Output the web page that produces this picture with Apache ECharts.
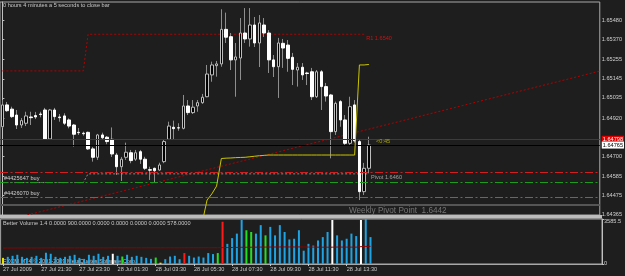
<!DOCTYPE html>
<html><head><meta charset="utf-8">
<script src="https://cdn.jsdelivr.net/npm/echarts@6/dist/echarts.min.js"></script>
<style>html,body{margin:0;padding:0;background:#1e1e1e}#c{width:625px;height:276px}</style>
</head><body><div id="c"></div>
<script>
// ---- data (GBPUSD M15) ----
const opens = [1.64870,1.64995,1.64971,1.64937,1.64880,1.64890,1.64926,1.64934,1.64943,1.64966,
1.64800,1.64966,1.64926,1.64932,1.64909,1.64880,1.64838,1.64833,1.64838,1.64743,
1.64695,1.64823,1.64810,1.64798,1.64708,1.64641,1.64695,1.64721,1.64684,1.64727,
1.64684,1.64624,1.64632,1.64622,1.64670,1.64798,1.64867,1.64864,1.64861,1.64989,
1.64951,1.64989,1.65008,1.65042,1.65167,1.65220,1.65230,1.65428,1.65386,1.65253,
1.65264,1.65407,1.65373,1.65453,1.65350,1.65453,1.65407,1.65253,1.65214,1.65348,
1.65338,1.65268,1.65195,1.65211,1.65178,1.65185,1.65042,1.65185,1.65100,1.65052,
1.64842,1.65014,1.64909,1.64775,1.64995,1.64785,1.64498,1.64632];
const closes = [1.64995,1.64962,1.64928,1.64880,1.64905,1.64932,1.64922,1.64926,1.64940,1.64800,
1.64966,1.64928,1.64922,1.64890,1.64874,1.64827,1.64836,1.64830,1.64743,1.64695,
1.64823,1.64807,1.64785,1.64714,1.64641,1.64684,1.64724,1.64676,1.64721,1.64684,
1.64632,1.64621,1.64618,1.64651,1.64785,1.64874,1.64859,1.64863,1.64989,1.64951,
1.64982,1.65008,1.65039,1.65172,1.65224,1.65230,1.65428,1.65383,1.65253,1.65270,
1.65407,1.65373,1.65453,1.65350,1.65465,1.65407,1.65253,1.65214,1.65350,1.65321,
1.65262,1.65199,1.65211,1.65167,1.65175,1.65042,1.65185,1.65100,1.65046,1.64842,
1.65004,1.64909,1.64775,1.64985,1.64789,1.64498,1.64632,1.64765];
const lows = [1.64863,1.64955,1.64920,1.64857,1.64863,1.64874,1.64880,1.64914,1.64924,1.64797,
1.64797,1.64909,1.64899,1.64880,1.64861,1.64756,1.64823,1.64819,1.64737,1.64670,
1.64680,1.64794,1.64770,1.64697,1.64594,1.64559,1.64680,1.64661,1.64674,1.64657,
1.64622,1.64565,1.64549,1.64618,1.64661,1.64794,1.64794,1.64847,1.64855,1.64937,
1.64943,1.64956,1.65001,1.65039,1.65128,1.65157,1.65214,1.65350,1.65195,1.65042,
1.65138,1.65350,1.65329,1.65327,1.65212,1.65384,1.65178,1.65155,1.65035,1.65207,
1.65185,1.65109,1.65100,1.65138,1.65109,1.65023,1.65035,1.64966,1.65014,1.64689,
1.64823,1.64870,1.64766,1.64766,1.64779,1.64450,1.64479,1.64603];
const highs = [1.65023,1.65012,1.64985,1.64966,1.64920,1.64956,1.64956,1.64955,1.64956,1.64978,
1.64972,1.64978,1.64943,1.64947,1.64918,1.64886,1.64863,1.64842,1.64842,1.64754,
1.64829,1.64836,1.64817,1.64866,1.64720,1.64697,1.64779,1.64737,1.64737,1.64737,
1.64698,1.64641,1.64636,1.64664,1.64794,1.64899,1.64905,1.64890,1.65052,1.65023,
1.65023,1.65023,1.65058,1.65224,1.65243,1.65247,1.65543,1.65524,1.65407,1.65350,
1.65493,1.65550,1.65550,1.65499,1.65510,1.65493,1.65424,1.65281,1.65379,1.65373,
1.65367,1.65293,1.65235,1.65235,1.65185,1.65207,1.65195,1.65195,1.65121,1.65058,
1.65014,1.65023,1.64937,1.65042,1.65023,1.64794,1.64663,1.64813];

const volumes = [489,570,652,734,570,489,570,652,489,897,
815,570,489,570,652,734,489,408,734,652,
815,570,652,815,652,595,734,570,652,570,
489,408,513,106,383,595,652,383,872,652,
513,595,513,872,791,872,3366,1606,2062,2421,
3505,2690,2551,2421,3097,2282,2958,2282,3097,2551,
1956,2013,2690,1060,1606,1467,1875,2143,2551,3505,
2282,1875,2013,2421,2225,3505,3585.5,2143];
// N normal, L low volume, U climax up, D climax down, C high churn
const volumeClass = ['L','N','N','N','N','N','N','N','N','N',
'N','N','N','N','N','N','N','N','N','N',
'N','N','N','D','N','C','N','N','N','N',
'N','N','C','L','N','N','N','N','U','N',
'N','N','N','N','N','C','U','N','N','N',
'N','C','C','N','N','C','N','N','N','N',
'N','N','N','N','N','N','N','N','N','D',
'N','N','N','N','N','D','N','N'];
const volumeAvg = [1270,1272,1275,1276,1278,1279,1280,1281,1280,1282,
1284,1285,1284,1283,1284,1285,1284,1283,1285,1286,
1287,1288,1288,1289,1290,1290,1291,1291,1292,1291,
1290,1290,1291,1290,1289,1290,1291,1292,1293,1294,
1294,1295,1295,1296,1297,1298,1310,1312,1316,1320,
1330,1334,1337,1340,1346,1348,1352,1354,1358,1360,
1358,1357,1360,1355,1350,1346,1340,1338,1336,1340,
1350,1348,1345,1344,1342,1380,1400,1405];

const r1Level = [1.6519,1.6519,1.6519,1.6519,1.6519,1.6519,1.6519,1.6519,1.6519,1.6519,
1.6519,1.6519,1.6519,1.6519,1.6519,1.6519,1.6519,1.6519,1.6540,1.6540,
1.6540,1.6540,1.6540,1.6540,1.6540,1.6540,1.6540,1.6540,1.6540,1.6540,
1.6540,1.6540,1.6540,1.6540,1.6540,1.6540,1.6540,1.6540,1.6540,1.6540,
1.6540,1.6540,1.6540,1.6540,1.6540,1.6540,1.6540,1.6540,1.6540,1.6540,
1.6540,1.6540,1.6540,1.6540,1.6540,1.6540,1.6540,1.6540,1.6540,1.6540,
1.6540,1.6540,1.6540,1.6540,1.6540,1.6540,1.6540,1.6540,1.6540,1.6540,
1.6540,1.6540,1.6540,1.6540,1.6540,1.6540,1.6540,null];
const pivotLevel = [1.6455,1.6455,1.6455,1.6455,1.6455,1.6455,1.6455,1.6455,1.6455,1.6455,
1.6455,1.6455,1.6455,1.6455,1.6455,1.6455,1.6455,1.6455,1.6460,1.6460,
1.6460,1.6460,1.6460,1.6460,1.6460,1.6460,1.6460,1.6460,1.6460,1.6460,
1.6460,1.6460,1.6460,1.6460,1.6460,1.6460,1.6460,1.6460,1.6460,1.6460,
1.6460,1.6460,1.6460,1.6460,1.6460,1.6460,1.6460,1.6460,1.6460,1.6460,
1.6460,1.6460,1.6460,1.6460,1.6460,1.6460,1.6460,1.6460,1.6460,1.6460,
1.6460,1.6460,1.6460,1.6460,1.6460,1.6460,1.6460,1.6460,1.6460,1.6460,
1.6460,1.6460,1.6460,1.6460,1.6460,1.6460,1.6460,1.6460];
const yellowLine = [null,null,null,null,null,null,null,null,null,null,
null,null,null,null,null,null,null,null,null,null,
null,null,null,null,null,null,null,null,null,null,
null,null,null,null,null,null,null,null,null,null,
null,null,1.64324,1.64450,1.64485,1.64530,1.64688,1.64690,1.64691,1.64693,
1.64694,1.64695,1.64698,1.64701,1.64704,1.64706,1.64708,1.64708,1.64708,1.64708,
1.64708,1.64708,1.64708,1.64708,1.64708,1.64708,1.64708,1.64708,1.64708,1.64708,
1.64708,1.64708,1.64708,1.64708,1.64708,1.65224,1.65224,1.65227];
const trendLine = [[5.2, 1.64364], [125.5, 1.65189]];
const stopLevel = 1.64609;
const orderLevels = [1.64552, 1.64466];
const orderLabels = ['#4425647 buy', '#4426070 buy'];
const weeklyPivot = 1.64424;
const askPrice = 1.64798;
const bidPrice = 1.64765;
const timerText = '<0:45';
const priceTicks = [1.65480,1.65370,1.65255,1.65145,1.65035,1.64920,1.64700,1.64585,1.64475,1.64365];
const volTicks = [3585.5, 0];
const timeLabels = ['27 Jul 2009','27 Jul 21:30','27 Jul 23:30','28 Jul 01:30','28 Jul 03:30',
'28 Jul 05:30','28 Jul 07:30','28 Jul 09:30','28 Jul 11:30','28 Jul 13:30'];

// ---- build ----
const SLOTS = 126;           // bars + right chart shift
const LAB = 8;               // a time label every 8 bars
const categories = [];
const t0 = Date.UTC(2009, 6, 27, 19, 30);
for (let i = 0; i < SLOTS; i++) categories.push(new Date(t0 + i * 900000).toISOString().slice(0, 16));
const FONT = 'Liberation Sans';
const FS = 5.6;
const wickData = opens.map((o, i) => [o, closes[i], lows[i], highs[i]]);
const bodyData = opens.map((o, i) => [o, closes[i], Math.min(o, closes[i]), Math.max(o, closes[i])]);
const volColor = {N: '#1ea4e4', L: '#e4e400', U: '#ff1a1a', D: '#ffffff', C: '#22e022'};
const dashDot = [8, 2.5, 2, 2.5];
const nBars = opens.length;

const levelLines = [
  {yAxis: stopLevel, lineStyle: {color: '#d21e1e', type: dashDot, width: 1}, label: {show: false}},
  {yAxis: orderLevels[0], lineStyle: {color: '#1e9b1e', type: dashDot, width: 1},
    label: {show: true, position: 'insideStartTop', formatter: orderLabels[0], color: '#d0d0d0', fontSize: FS, distance: [4, 1]}},
  {yAxis: orderLevels[1], lineStyle: {color: '#1e9b1e', type: dashDot, width: 1},
    label: {show: true, position: 'insideStartTop', formatter: orderLabels[1], color: '#d0d0d0', fontSize: FS, distance: [4, 1]}},
  {yAxis: weeklyPivot, lineStyle: {color: '#555555', type: 'solid', width: 2}, label: {show: false}},
  {yAxis: askPrice, lineStyle: {color: '#c80000', type: 'solid', width: 1},
    label: {show: true, position: 'end', formatter: askPrice.toFixed(5), backgroundColor: '#e00000', color: '#ffffff', padding: [1, 1, 0, 1], fontSize: FS, distance: 2}},
  {yAxis: bidPrice, lineStyle: {color: '#000000', type: 'solid', width: 1},
    label: {show: true, position: 'end', formatter: bidPrice.toFixed(5), backgroundColor: '#ffffff', color: '#000000', padding: [1, 1, 0, 1], fontSize: FS, distance: 2}}
];

const chart = echarts.init(document.getElementById('c'), null, {renderer: 'canvas', width: 625, height: 276});
chart.setOption({
  backgroundColor: '#1e1e1e',
  animation: false,
  textStyle: {fontFamily: FONT},
  grid: [
    {left: 0, right: 23, top: 2, height: 213, show: true, borderColor: '#a8a8a8', borderWidth: 1},
    {left: 0, right: 23, top: 219, height: 45, show: true, borderColor: '#a8a8a8', borderWidth: 1}
  ],
  xAxis: [
    {type: 'category', gridIndex: 0, data: categories, boundaryGap: true, show: false},
    {type: 'category', gridIndex: 1, data: categories, boundaryGap: true,
      axisLine: {show: true, lineStyle: {color: '#a8a8a8'}},
      axisTick: {show: true, alignWithLabel: true, length: 2, interval: (i) => i % LAB === 0 && i < nBars, lineStyle: {color: '#c8c8c8'}},
      axisLabel: {interval: (i) => i % LAB === 0 && i < nBars, formatter: (v, i) => timeLabels[i / LAB] || '',
        align: 'left', margin: 2, color: '#c8c8c8', fontSize: FS, fontFamily: FONT},
      splitLine: {show: false}},
    {type: 'value', gridIndex: 0, min: -0.5, max: SLOTS - 0.5, show: false}
  ],
  yAxis: [
    {type: 'value', gridIndex: 0, position: 'right', min: 1.643643, max: 1.655848,
      axisLine: {show: true, lineStyle: {color: '#c0c0c0'}},
      axisTick: {show: true, customValues: priceTicks, length: 2, lineStyle: {color: '#c0c0c0'}},
      axisLabel: {customValues: priceTicks, formatter: v => v.toFixed(5), color: '#d0d0d0', fontSize: FS, margin: 2, fontFamily: FONT},
      splitLine: {show: false}},
    {type: 'value', gridIndex: 1, position: 'right', min: 0, max: 3585.5,
      axisLine: {show: true, lineStyle: {color: '#c0c0c0'}},
      axisTick: {show: true, customValues: volTicks, length: 2, lineStyle: {color: '#c0c0c0'}},
      axisLabel: {customValues: volTicks, formatter: v => v > 0 ? '{t|' + v + '}' : '{b|0}', color: '#d0d0d0', fontSize: FS, margin: 2, fontFamily: FONT,
        rich: {t: {padding: [5, 0, 0, 0], fontSize: FS, color: '#d0d0d0'}, b: {padding: [0, 0, 2, 0], fontSize: FS, color: '#d0d0d0'}}},
      splitLine: {show: false}}
  ],
  graphic: [
    {type: 'rect', z: 50, shape: {x: 0, y: 215, width: 602, height: 3.5}, style: {fill: '#bcbcbc'}},
    {type: 'text', z: 1, left: 3, top: 2, style: {text: '0 hours 4 minutes a 5 seconds to close bar', fill: '#c8c8c8', font: FS + 'px ' + FONT}},
    {type: 'text', z: 1, left: 3, top: 220.5, style: {text: 'Better Volume 1.4 0.0000 900.0000 0.0000 0.0000 0.0000 0.0000 578.0000', fill: '#c8c8c8', font: FS + 'px ' + FONT}},
    {type: 'text', z: 1, left: 3, top: 258.5, style: {text: 'FXCM MT4 \u00a9 2001-2009 MetaQuotes Software Corp.', fill: '#c8c8c8', font: FS + 'px ' + FONT}}
  ],
  series: [
    {type: 'line', name: 'trend', xAxisIndex: 2, yAxisIndex: 0, data: trendLine, symbol: 'none', z: 2,
      lineStyle: {color: '#b40000', width: 1, type: [2, 2]}},
    {type: 'line', name: 'R1', xAxisIndex: 0, yAxisIndex: 0, data: r1Level, symbol: 'none', z: 2,
      lineStyle: {color: '#b40000', width: 1, type: [2, 2]},
      endLabel: {show: true, formatter: p => 'R1 ' + p.value.toFixed(4), color: '#c81414', fontSize: FS, offset: [0, 4], distance: 2}},
    {type: 'line', name: 'Pivot', xAxisIndex: 0, yAxisIndex: 0, data: pivotLevel, symbol: 'none', z: 2,
      lineStyle: {color: '#8c8c8c', width: 1, type: [2, 2]},
      endLabel: {show: true, formatter: p => 'Pivot ' + p.value.toFixed(4), color: '#a0a0a0', fontSize: FS, offset: [0, 4], distance: 2},
      markLine: {silent: true, precision: 6, symbol: ['none', 'none'], animation: false, data: levelLines}},
    {type: 'line', name: 'yellow', xAxisIndex: 0, yAxisIndex: 0, data: yellowLine, symbol: 'none', z: 5,
      lineStyle: {color: '#cbc600', width: 1}},
    {type: 'candlestick', name: 'wicks', xAxisIndex: 0, yAxisIndex: 0, data: wickData, barWidth: 0, z: 3,
      itemStyle: {color: '#8e8e8e', color0: '#8e8e8e', borderColor: '#8e8e8e', borderColor0: '#8e8e8e', borderWidth: 1}},
    {type: 'candlestick', name: 'bodies', xAxisIndex: 0, yAxisIndex: 0, data: bodyData, barWidth: 3, z: 4,
      itemStyle: {color: '#000000', color0: '#ffffff', borderColor: '#bcbcbc', borderColor0: '#ffffff', borderWidth: 1}},
    {type: 'scatter', name: 'notes', xAxisIndex: 2, yAxisIndex: 0, symbolSize: 1, itemStyle: {color: 'rgba(0,0,0,0)'}, z: 6,
      data: [
        {value: [72.7, weeklyPivot], label: {show: true, position: 'right', distance: 0, offset: [0, 6], formatter: 'Weekly Pivot Point  ' + weeklyPivot.toFixed(4), color: '#8a8a8a', fontSize: 8.2}},
        {value: [78.4, 1.64786], label: {show: true, position: 'right', distance: 0, formatter: timerText, color: '#cbc600', fontSize: FS}}
      ]},
    {type: 'bar', name: 'volume', xAxisIndex: 1, yAxisIndex: 1, barWidth: 2, z: 3,
      data: volumes.map((v, i) => ({value: v, itemStyle: {color: volColor[volumeClass[i]]}}))},
    {type: 'line', name: 'volAvg', xAxisIndex: 1, yAxisIndex: 1, data: volumeAvg, symbol: 'none', z: 4,
      lineStyle: {color: '#8b0000', width: 1}}
  ]
});
</script></body></html>
